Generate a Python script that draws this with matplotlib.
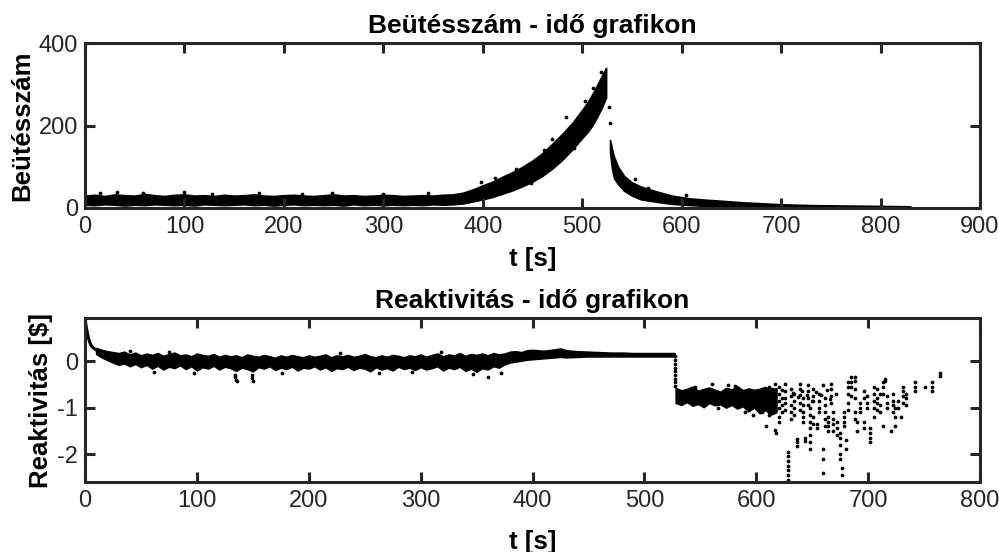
import matplotlib
matplotlib.use("Agg")
import matplotlib.pyplot as plt

plt.rcParams['font.family'] = ['Liberation Sans', 'DejaVu Sans']
plt.rcParams['axes.unicode_minus'] = False

# ---------------- data: top chart (count vs time) ----------------
top_rise_t = [0, 10, 20, 30, 40, 50, 60, 70, 80, 90, 100, 110, 120, 130, 140, 150, 160, 170, 180,
              190, 200, 210, 220, 230, 240, 250, 260, 270, 280, 290, 300, 310, 320, 330, 340, 350,
              360, 370, 380, 390, 400, 410, 420, 430, 440, 450, 460, 470, 480, 490, 500, 505, 510,
              515, 520, 524]
top_rise_hi = [30, 32, 29, 33, 31, 30, 34, 31, 29, 32, 33, 30, 31, 29, 32, 30, 31, 33, 30,
               29, 31, 32, 30, 29, 31, 33, 30, 31, 29, 30, 32, 31, 29, 30, 31, 30,
               32, 33, 37, 45, 55, 64, 76, 87, 100, 115, 133, 156, 180, 206, 238, 255, 275,
               298, 322, 340]
top_rise_lo = [8, 7, 9, 8, 6, 8, 7, 9, 8, 7, 8, 6, 9, 8, 7, 8, 9, 7, 8,
               6, 8, 9, 7, 8, 7, 8, 6, 9, 7, 8, 7, 8, 7, 8, 7, 9,
               8, 9, 11, 16, 21, 27, 35, 43, 53, 64, 78, 96, 117, 142, 170, 183, 200,
               221, 245, 268]
top_decay_t = [528, 530, 532, 536, 542, 550, 559, 575, 590, 609, 625, 643, 660, 676, 700,
               730, 760, 800, 830]
top_decay_hi = [165, 142, 124, 100, 78, 62, 52, 40, 30, 23, 20, 17, 14, 12, 9, 7, 6, 5, 4]
top_decay_lo = [135, 95, 72, 58, 42, 30, 21, 15, 10, 7, 5, 4, 3, 3, 2, 1, 1, 0, 0]
top_out_t = [15, 32, 58, 100, 128, 175, 218, 248, 300, 345, 398, 412, 433, 448, 462, 470, 484,
             492, 503, 511, 519, 526.5, 527.5, 604, 566, 553]
top_out_c = [36, 40, 37, 38, 35, 36, 35, 37, 35, 36, 62, 72, 95, 60, 140, 168, 220,
             145, 260, 290, 330, 246, 206, 32, 48, 70]

# ---------------- data: bottom chart (reactivity vs time) ----------------
bot_start_t = [0, 1, 2, 3, 4, 5, 6, 8, 10, 13, 16, 20]
bot_start_r = [0.92, 0.75, 0.62, 0.5, 0.42, 0.36, 0.32, 0.27, 0.24, 0.2, 0.17, 0.14]

bot_band_t = [10, 15, 20, 25, 30, 35, 40, 45, 50, 55, 60, 65, 70, 75, 80, 85, 90, 95, 100,
              105, 110, 115, 120, 125, 130, 135, 140, 145, 150, 155, 160, 165, 170, 175, 180,
              185, 190, 195, 200, 205, 210, 215, 220, 225, 230, 235, 240, 245, 250, 255, 260,
              265, 270, 275, 280, 285, 290, 295, 300, 305, 310, 315, 320, 325, 330, 335, 340,
              345, 350, 355, 360, 365, 370, 375, 380,
              385, 390, 395, 400, 410, 420, 425, 430, 440, 450, 460, 470, 480, 490, 500, 510,
              520, 527]
bot_band_hi = [0.28, 0.24, 0.21, 0.19, 0.17, 0.2, 0.14, 0.18, 0.12, 0.16, 0.13, 0.17, 0.11, 0.15,
               0.18, 0.12, 0.14, 0.1, 0.16, 0.13, 0.11, 0.15, 0.09, 0.13, 0.1, 0.12, 0.08, 0.14,
               0.11, 0.09, 0.13, 0.1, 0.07, 0.12, 0.09, 0.13, 0.1, 0.08, 0.12, 0.09, 0.11, 0.14,
               0.08, 0.12, 0.1, 0.13, 0.09, 0.11, 0.15, 0.1, 0.08, 0.12, 0.09, 0.13, 0.11, 0.08,
               0.12, 0.1, 0.14, 0.09, 0.13, 0.16, 0.1, 0.14, 0.12, 0.17, 0.11, 0.15, 0.13, 0.16,
               0.12, 0.17, 0.14, 0.16, 0.2,
               0.21, 0.19, 0.23, 0.24, 0.22, 0.25, 0.27, 0.23, 0.21, 0.2, 0.19, 0.18, 0.18, 0.17,
               0.17, 0.17, 0.17, 0.17]
bot_band_lo = [0.15, 0.08, 0.02, -0.03, -0.08, -0.05, -0.11, -0.06, -0.13, -0.08, -0.16, -0.1,
               -0.18, -0.12, -0.15, -0.09, -0.17, -0.11, -0.2, -0.13, -0.16, -0.1, -0.18, -0.12,
               -0.15, -0.21, -0.14, -0.17, -0.22, -0.13, -0.16, -0.11, -0.19, -0.14, -0.17, -0.12,
               -0.2, -0.14, -0.16, -0.11, -0.18, -0.13, -0.21, -0.15, -0.17, -0.12, -0.19, -0.14,
               -0.16, -0.22, -0.13, -0.18, -0.15, -0.2, -0.12, -0.17, -0.14, -0.19, -0.13, -0.18,
               -0.15, -0.11, -0.2, -0.14, -0.17, -0.12, -0.21, -0.16, -0.23, -0.15, -0.18, -0.11,
               -0.14, -0.07, -0.03,
               -0.01, 0.01, 0.03, 0.04, 0.06, 0.08, 0.09, 0.08, 0.09, 0.1, 0.1, 0.1, 0.1, 0.1,
               0.1, 0.1, 0.1, 0.1]
bot_spike_t = [134, 134.5, 135, 135.5, 149, 149.5, 150, 360, 40, 75, 228, 318, 62, 97, 176,
               263, 292, 347, 372]
bot_spike_r = [-0.3, -0.35, -0.4, -0.43, -0.3, -0.36, -0.42, -0.34, 0.21, 0.2, 0.18, 0.2,
               -0.24, -0.26, -0.25, -0.26, -0.24, -0.28, -0.25]

step_t = [527.5, 527.5, 527.5, 527.5, 527.5, 527.5, 527.5, 527.5, 527.5]
step_r = [0.1, 0.02, -0.06, -0.14, -0.22, -0.3, -0.38, -0.46, -0.54]

low_band_t = [528, 533, 538, 543, 548, 553, 558, 563, 568, 573, 578, 583, 588, 593, 598, 603,
              608, 613, 618]
low_band_hi = [-0.58, -0.63, -0.6, -0.55, -0.64, -0.6, -0.57, -0.62, -0.66, -0.58, -0.61,
               -0.54, -0.63, -0.59, -0.62, -0.6, -0.56, -0.62, -0.58]
low_band_lo = [-0.9, -0.94, -0.88, -0.96, -0.92, -0.99, -0.9, -0.95, -0.93, -1.0, -0.94,
               -1.02, -0.97, -1.08, -1.0, -1.12, -1.05, -1.15, -1.1]

sparse_t = [575, 560, 590, 597, 545, 566, 581,
            605, 605, 605, 605, 605, 605, 609,
            611, 611, 611, 611, 611, 611, 614, 614, 614, 614, 616.8, 617.3,
            617, 617, 617, 617, 617, 620, 620, 620, 620, 620, 620,
            623, 623, 623, 623, 626, 626, 626, 626, 626,
            628.7, 628.7, 628.7, 628.7, 628.7, 628.7, 628.7,
            631, 631, 631, 631, 631, 634, 634, 634, 634, 636, 636, 636,
            639, 639, 639, 639, 639, 642, 642, 642, 642, 642, 643.6, 643.6,
            646, 646, 646, 646, 648, 648, 648, 648, 648, 648, 648,
            651, 651, 651, 651, 651, 654, 654, 656, 656, 656, 656,
            659.4, 659.4, 659.4, 659.4, 661.5, 661.5, 661.5, 661.5, 661.5,
            664, 664, 664, 664, 667, 667, 667, 667, 669, 669, 669, 669,
            672, 672, 672, 675, 675, 675, 675, 675, 677, 677, 678, 678, 678, 678,
            680, 680, 682, 682, 682, 682, 682, 685, 685, 685, 685,
            688, 688, 688, 688, 688, 688, 690, 690, 693, 693, 693,
            696, 696, 696, 696, 699, 699, 699, 702, 702, 702, 702,
            705, 705, 705, 705, 705, 708, 708, 708, 708, 711, 711, 711,
            713, 713, 713, 713, 715, 715, 717, 717, 717, 720,
            722, 722, 722, 722, 724, 724, 724, 727, 727, 729,
            731, 731, 731, 731, 734, 734, 734, 742, 742, 742, 751,
            757, 757, 757, 764, 764,
            633, 637, 641, 645, 650, 653, 658, 663, 666, 671]
sparse_r = [-0.52, -0.5, -1.1, -1.15, -0.55, -1.02, -0.53,
            -0.6, -0.7, -0.8, -0.9, -1.0, -1.1, -1.4,
            -0.55, -0.65, -0.75, -0.85, -1.0, -1.15, -0.6, -0.7, -0.8, -0.95, -1.48, -1.55,
            -0.5, -0.62, -0.75, -0.9, -1.05, -0.55, -0.7, -0.85, -1.0, -1.2, -1.3,
            -0.62, -0.8, -0.95, -1.1, -0.5, -0.65, -0.8, -0.9, -1.05,
            -1.95, -2.05, -2.15, -2.25, -2.35, -2.45, -2.55,
            -0.6, -0.75, -0.95, -1.1, -1.25, -0.7, -0.85, -1.0, -1.15, -1.68, -1.75, -1.82,
            -0.5, -0.6, -0.72, -0.9, -1.05, -0.8, -0.95, -1.1, -1.2, -1.3, -1.65, -1.72,
            -0.52, -0.65, -0.8, -0.95, -1.0, -1.15, -1.3, -1.45, -1.6, -1.75, -1.9,
            -0.6, -0.75, -0.85, -1.2, -1.35, -1.35, -1.45, -0.7, -0.85, -1.0, -1.1,
            -0.52, -1.9, -2.1, -2.4, -0.8, -0.95, -1.1, -1.25, -1.4,
            -1.2, -1.3, -1.4, -1.5, -0.5, -0.6, -0.75, -0.9, -1.1, -1.25, -1.35, -1.5,
            -1.3, -1.45, -1.6, -1.55, -1.65, -1.8, -2.0, -2.1, -2.3, -2.45, -1.1, -1.2, -1.3, -1.4,
            -1.7, -1.9, -0.45, -0.55, -0.7, -0.9, -1.05, -0.35, -0.45, -0.55, -0.75,
            -0.35, -0.42, -0.6, -0.8, -1.1, -1.25, -1.3, -1.5, -0.9, -1.0, -1.1,
            -0.65, -0.8, -1.3, -1.45, -0.75, -0.9, -1.0, -1.45, -1.55, -1.65, -1.75,
            -0.55, -0.7, -0.85, -1.0, -1.2, -0.6, -0.8, -0.9, -1.05, -0.7, -0.95, -1.1,
            -0.45, -0.55, -0.7, -1.4, -0.38, -0.42, -0.75, -0.9, -1.0, -1.5,
            -0.7, -0.85, -0.95, -1.1, -1.0, -1.2, -1.4, -0.85, -1.0, -1.2,
            -0.55, -0.65, -0.75, -0.9, -0.7, -0.8, -0.95, -0.45, -0.55, -0.65, -0.55,
            -0.45, -0.55, -0.65, -0.25, -0.32,
            -0.68, -0.78, -0.65, -0.72, -0.85, -0.66, -0.74, -0.62, -0.82, -0.7]

# ---------------- figure ----------------
W, H = 999, 552
fig = plt.figure(figsize=(W / 100, H / 100), dpi=100)
spine_c = '#262626'
tick_fs = 17
lab_fs = 18.5
title_fs = 19

ax1 = fig.add_axes([85 / W, (H - 208) / H, (980 - 85) / W, 165 / H])
ax2 = fig.add_axes([85 / W, (H - 482) / H, (980 - 85) / W, 164 / H])

ms = 2.7
# top
ax1.fill_between(top_rise_t, top_rise_lo, top_rise_hi, color='k', lw=1.2)
ax1.fill_between(top_decay_t, top_decay_lo, top_decay_hi, color='k', lw=1.2)
ax1.plot(top_out_t, top_out_c, 'o', color='k', ms=ms, mew=0)
ax1.set_xlim(0, 900)
ax1.set_ylim(0, 400)
ax1.set_xticks([0, 100, 200, 300, 400, 500, 600, 700, 800, 900])
ax1.set_yticks([0, 200, 400])
ax1.set_title('Beütésszám - idő grafikon', fontsize=title_fs, fontweight='bold', pad=7)
ax1.set_xlabel('t [s]', fontsize=lab_fs, fontweight='bold', labelpad=6.5)
ax1.set_ylabel('Beütésszám', fontsize=lab_fs, fontweight='bold', labelpad=3)

# bottom
ax2.plot(bot_start_t, bot_start_r, '-', color='k', lw=2.2)
ax2.fill_between(bot_band_t, bot_band_lo, bot_band_hi, color='k', lw=1.2)
ax2.plot(bot_spike_t, bot_spike_r, 'o', color='k', ms=ms, mew=0)
ax2.plot(step_t, step_r, 'o', color='k', ms=ms, mew=0)
ax2.fill_between(low_band_t, low_band_lo, low_band_hi, color='k', lw=1.2)
ax2.plot(sparse_t, sparse_r, 'o', color='k', ms=ms, mew=0)
ax2.set_xlim(0, 800)
ax2.set_ylim(-2.6, 0.925)
ax2.set_xticks([0, 100, 200, 300, 400, 500, 600, 700, 800])
ax2.set_yticks([-2, -1, 0])
ax2.set_title('Reaktivitás - idő grafikon', fontsize=title_fs, fontweight='bold', pad=7)
ax2.set_xlabel('t [s]', fontsize=lab_fs, fontweight='bold', labelpad=13)
ax2.set_ylabel('Reaktivitás [\\$]', fontsize=lab_fs, fontweight='bold', labelpad=3)

for ax in (ax1, ax2):
    for s in ax.spines.values():
        s.set_linewidth(2.2)
        s.set_color(spine_c)
    ax.tick_params(direction='in', length=7, width=2.2, colors=spine_c,
                   labelsize=tick_fs, top=True, right=True, pad=5)
    ax.tick_params(axis='x', pad=5.5)

fig.savefig('out.png', dpi=100)
